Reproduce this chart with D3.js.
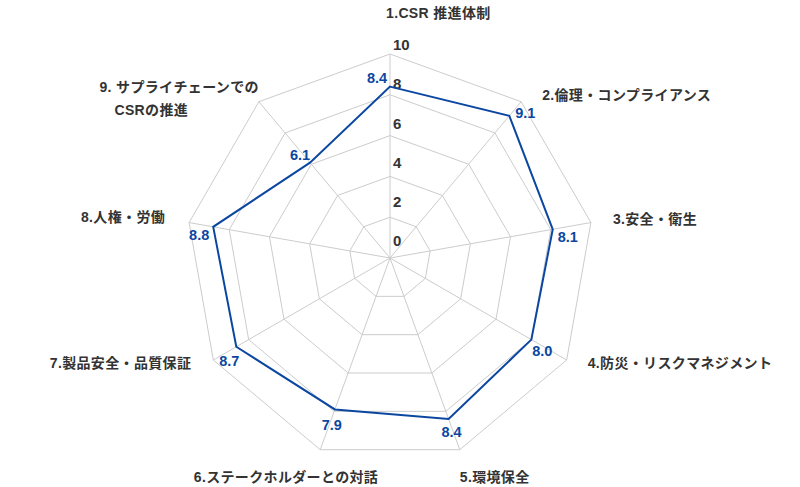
<!DOCTYPE html>
<html>
<head>
<meta charset="utf-8">
<script src="https://cdn.jsdelivr.net/npm/d3@7"></script>
<style>
  body { margin: 0; background: #fff; }
  svg text { font-family: "Liberation Sans", Arial, "Noto Sans CJK JP", sans-serif; }
</style>
</head>
<body>
<div id="chart"></div>
<script>
// axis names, scores and the ring ticks
const categories = [
  "1.CSR 推進体制",
  "2.倫理・コンプライアンス",
  "3.安全・衛生",
  "4.防災・リスクマネジメント",
  "5.環境保全",
  "6.ステークホルダーとの対話",
  "7.製品安全・品質保証",
  "8.人権・労働",
  "9. サプライチェーンでの|CSRの推進"
];
const scores = [8.4, 9.1, 8.1, 8.0, 8.4, 7.9, 8.7, 8.8, 6.1];
const ticks = [0, 2, 4, 6, 8, 10];

const width = 800, height = 487;
const cx = 390, cy = 258, radius = 204;
const blue = "#0b47a1", grey = "#cccccc", ink = "#333333";

const svg = d3.select("#chart").append("svg")
    .attr("width", width)
    .attr("height", height);

const r = d3.scaleLinear().domain([0, 10]).range([0, radius]);
const angle = d3.scaleLinear().domain([0, categories.length]).range([0, 2 * Math.PI]);

// x/y for a value on the i-th spoke, measured clockwise from the top
function pos(i, v) {
  const a = angle(i);
  return [cx + r(v) * Math.sin(a), cy - r(v) * Math.cos(a)];
}

const g = svg.append("g");

// rings
g.selectAll("polygon.ring")
  .data(ticks.filter(t => t > 0))
  .join("polygon")
    .attr("class", "ring")
    .attr("points", t => categories.map((c, i) => pos(i, t).join(",")).join(" "))
    .attr("fill", "none")
    .attr("stroke", grey)
    .attr("stroke-width", 1);

// spokes
g.selectAll("line.spoke")
  .data(categories)
  .join("line")
    .attr("class", "spoke")
    .attr("x1", cx)
    .attr("y1", cy)
    .attr("x2", (c, i) => pos(i, 10)[0])
    .attr("y2", (c, i) => pos(i, 10)[1])
    .attr("stroke", grey)
    .attr("stroke-width", 1);

// tick labels sit a little above each ring, along the top spoke
const tickY = d3.scaleLinear().domain([0, 10]).range([cy - 17, cy - 213]);
g.selectAll("text.tick")
  .data(ticks)
  .join("text")
    .attr("class", "tick")
    .attr("x", cx + 3)
    .attr("y", t => tickY(t))
    .attr("dy", "0.35em")
    .attr("fill", ink)
    .attr("font-size", 15)
    .attr("font-weight", "bold")
    .text(t => t);

// score line
const line = d3.lineRadial()
    .angle((d, i) => angle(i))
    .radius(d => r(d))
    .curve(d3.curveLinearClosed);

g.append("path")
    .datum(scores)
    .attr("transform", `translate(${cx},${cy})`)
    .attr("d", line)
    .attr("fill", "none")
    .attr("stroke", blue)
    .attr("stroke-width", 2)
    .attr("stroke-linejoin", "miter");

// value labels, nudged off the line the way the original lays them out
const valueNudge = [[-13, -9], [16, -3], [15, 8], [11, 11], [3, 13], [-3, 15], [-7, 14], [-14, 8], [-10, -8]];
g.selectAll("text.value")
  .data(scores)
  .join("text")
    .attr("class", "value")
    .attr("x", (v, i) => pos(i, v)[0] + valueNudge[i][0])
    .attr("y", (v, i) => pos(i, v)[1] + valueNudge[i][1])
    .attr("dy", "0.35em")
    .attr("text-anchor", "middle")
    .attr("fill", blue)
    .attr("font-size", 14.5)
    .attr("font-weight", "bold")
    .text(v => v.toFixed(1));

// category labels: right half starts after the spoke end, left half ends before it
const labelNudge = [
  ["start", -4, -41], ["start", 21, -7], ["start", 22, -3], ["start", 21, 3],
  ["start", 0, 27], ["end", 58, 27], ["end", -22, 3], ["end", -24, -5], ["end", 0, -15]
];
categories.forEach((c, i) => {
  const [x, y] = pos(i, 10);
  const [anchor, dx, dy] = labelNudge[i];
  const lines = c.split("|");
  const t = g.append("text")
      .attr("x", x + dx)
      .attr("y", y + dy)
      .attr("dy", "0.35em")
      .attr("text-anchor", anchor)
      .attr("fill", ink)
      .attr("font-size", 14)
      .attr("letter-spacing", 0.35)
      .attr("font-weight", "bold")
      .text(lines[0]);
  if (lines.length > 1) {
    // second line starts indented under the first
    const left = x + dx - t.node().getComputedTextLength();
    g.append("text")
        .attr("x", left + 15)
        .attr("y", y + dy + 23)
        .attr("dy", "0.35em")
        .attr("fill", ink)
        .attr("font-size", 14)
        .attr("letter-spacing", 0.35)
        .attr("font-weight", "bold")
        .text(lines[1]);
  }
});
</script>
</body>
</html>
